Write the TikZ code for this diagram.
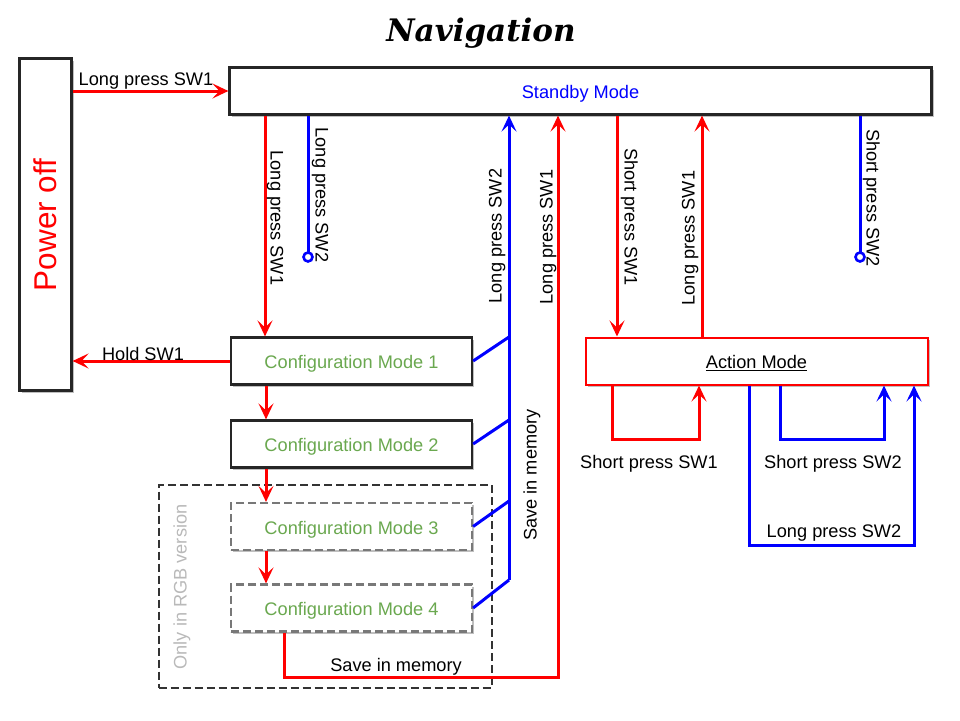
\documentclass[tikz,border=0pt]{standalone}
\usepackage{fontspec}
\setmainfont{Liberation Sans}
\newfontfamily\titlefont{DejaVu Serif}
\usetikzlibrary{arrows.meta,shadows}
\definecolor{cfggreen}{RGB}{106,168,79}
\definecolor{rgbgray}{RGB}{185,185,185}
\definecolor{dashgray}{RGB}{120,120,120}
\begin{document}
\begin{tikzpicture}[x=1pt,y=-1pt,
  lbl/.style={font=\fontsize{18.2}{21}\selectfont, inner sep=0pt, text height=13pt, text depth=0pt},
  arr/.style={-{Stealth[length=16pt,width=15pt,inset=7pt]}},
  redline/.style={draw=red, line width=3pt},
  blueline/.style={draw=blue, line width=3pt},
  shad/.style={drop shadow={shadow xshift=2pt,shadow yshift=-2pt,opacity=0.25,fill=black}},
  box/.style={draw=black!85, line width=2.2pt, fill=white, inner sep=0pt, shad, text height=15pt, text depth=0pt},
  cfgbox/.style={box, minimum width=241pt, minimum height=47pt, text=cfggreen, font=\fontsize{18.2}{21}\selectfont},
  dbox/.style={cfgbox, draw=dashgray, dashed, dash pattern=on 8pt off 4pt},
  endc/.style={draw=blue, line width=2.6pt, fill=white}
]
\useasboundingbox (0,0) rectangle (960,720);

% title
\node[font=\titlefont\bfseries\itshape\fontsize{31}{36}\selectfont, inner sep=0pt] (title) at (481,33) {Navigation};

% outer dashed group
\node[draw=black!80, line width=2pt, dashed, dash pattern=on 8pt off 4pt, minimum width=333pt, minimum height=203pt, inner sep=0pt] (grp) at (325,586) {};
\node[lbl, text=rgbgray, rotate=90] (rgbtxt) at (180,587) {Only in RGB version};

% main nodes
\node[box, minimum width=52pt, minimum height=332pt] (power) at (45.5,224.5) {};
\node[font=\fontsize{31.5}{36}\selectfont, text=red, rotate=90, inner sep=0pt] (powertxt) at (45,225) {Power off};
\node[box, minimum width=702pt, minimum height=47pt, text=blue, font=\fontsize{18.2}{21}\selectfont] (standby) at (580.5,91) {Standby Mode};
\node[cfgbox] (cfg1) at (351.5,361) {Configuration Mode 1};
\node[cfgbox] (cfg2) at (351.5,444) {Configuration Mode 2};
\node[dbox] (cfg3) at (351.5,526.5) {Configuration Mode 3};
\node[dbox] (cfg4) at (351.5,608) {Configuration Mode 4};
\node[box, draw=red, line width=2pt, minimum width=342pt, minimum height=47pt, font=\fontsize{18.2}{21}\selectfont] (action) at (756.5,361) {\underline{Action Mode}};

% power off -> standby
\draw[redline, arr] (power.east |- standby.west) -- (standby.west);
\node[lbl] (l1) at (146,79) {Long press SW1};

% standby -> cfg1
\draw[redline, arr] (265,0 |- standby.south) -- (265,0 |- cfg1.north);
\node[lbl, rotate=-90] (l2) at (277,218) {Long press SW1};

% blue stub long press SW2
\coordinate (c1) at (308,257);
\draw[blueline] (308,0 |- standby.south) -- (c1);
\draw[endc] (c1) circle (4.5);
\node[lbl, rotate=-90] (l3) at (322,195) {Long press SW2};

% hold SW1
\draw[redline, arr] (cfg1.west) -- (power.east |- cfg1.west);
\node[lbl] (l4) at (143,354) {Hold SW1};

% config chain
\draw[redline, arr] (266,0 |- cfg1.south) -- (266,0 |- cfg2.north);
\draw[redline, arr] (266,0 |- cfg2.south) -- (266,0 |- cfg3.north);
\draw[redline, arr] (266,0 |- cfg3.south) -- (266,0 |- cfg4.north);

% blue save-in-memory bus
\coordinate (b1) at (509,337);
\coordinate (b2) at (509,420);
\coordinate (b3) at (509,501);
\coordinate (b4) at (509,580);
\draw[blueline] (cfg1.east) -- (b1);
\draw[blueline] (cfg2.east) -- (b2);
\draw[blueline] (cfg3.east) -- (b3);
\draw[blueline] (cfg4.east) -- (b4);
\draw[blueline, arr] (b4) -- (b4 |- standby.south);
\node[lbl, rotate=90] (l5) at (495,236) {Long press SW2};
\node[lbl, rotate=90] (l6) at (530,475) {Save in memory};

% red save in memory from cfg4
\coordinate (r1) at (284,677);
\coordinate (r2) at (558,677);
\draw[redline, arr] (284,0 |- cfg4.south) -- (r1) -- (r2) -- (r2 |- standby.south);
\node[lbl] (l7) at (396,665) {Save in memory};
\node[lbl, rotate=90] (l8) at (546,237) {Long press SW1};

% standby <-> action
\draw[redline, arr] (617,0 |- standby.south) -- (617,0 |- action.north);
\node[lbl, rotate=-90] (l9) at (631,217) {Short press SW1};
\draw[redline, arr] (702,0 |- action.north) -- (702,0 |- standby.south);
\node[lbl, rotate=90] (l10) at (688,238) {Long press SW1};

% blue stub short press SW2
\coordinate (c2) at (860,257);
\draw[blueline] (860,0 |- standby.south) -- (c2);
\draw[endc] (c2) circle (4.5);
\node[lbl, rotate=-90] (l11) at (873,198) {Short press SW2};

% action self loops
\coordinate (s1) at (612,439);
\coordinate (s2) at (699,439);
\draw[redline, arr] (612,0 |- action.south) -- (s1) -- (s2) -- (s2 |- action.south);
\node[lbl] (l12) at (649,462) {Short press SW1};

\coordinate (s3) at (780,439);
\coordinate (s4) at (884,439);
\draw[blueline, arr] (780,0 |- action.south) -- (s3) -- (s4) -- (s4 |- action.south);
\node[lbl] (l13) at (833,462) {Short press SW2};

\coordinate (s5) at (749,545);
\coordinate (s6) at (914,545);
\draw[blueline, arr] (749,0 |- action.south) -- (s5) -- (s6) -- (s6 |- action.south);
\node[lbl] (l14) at (834,531) {Long press SW2};
\end{tikzpicture}
\end{document}
